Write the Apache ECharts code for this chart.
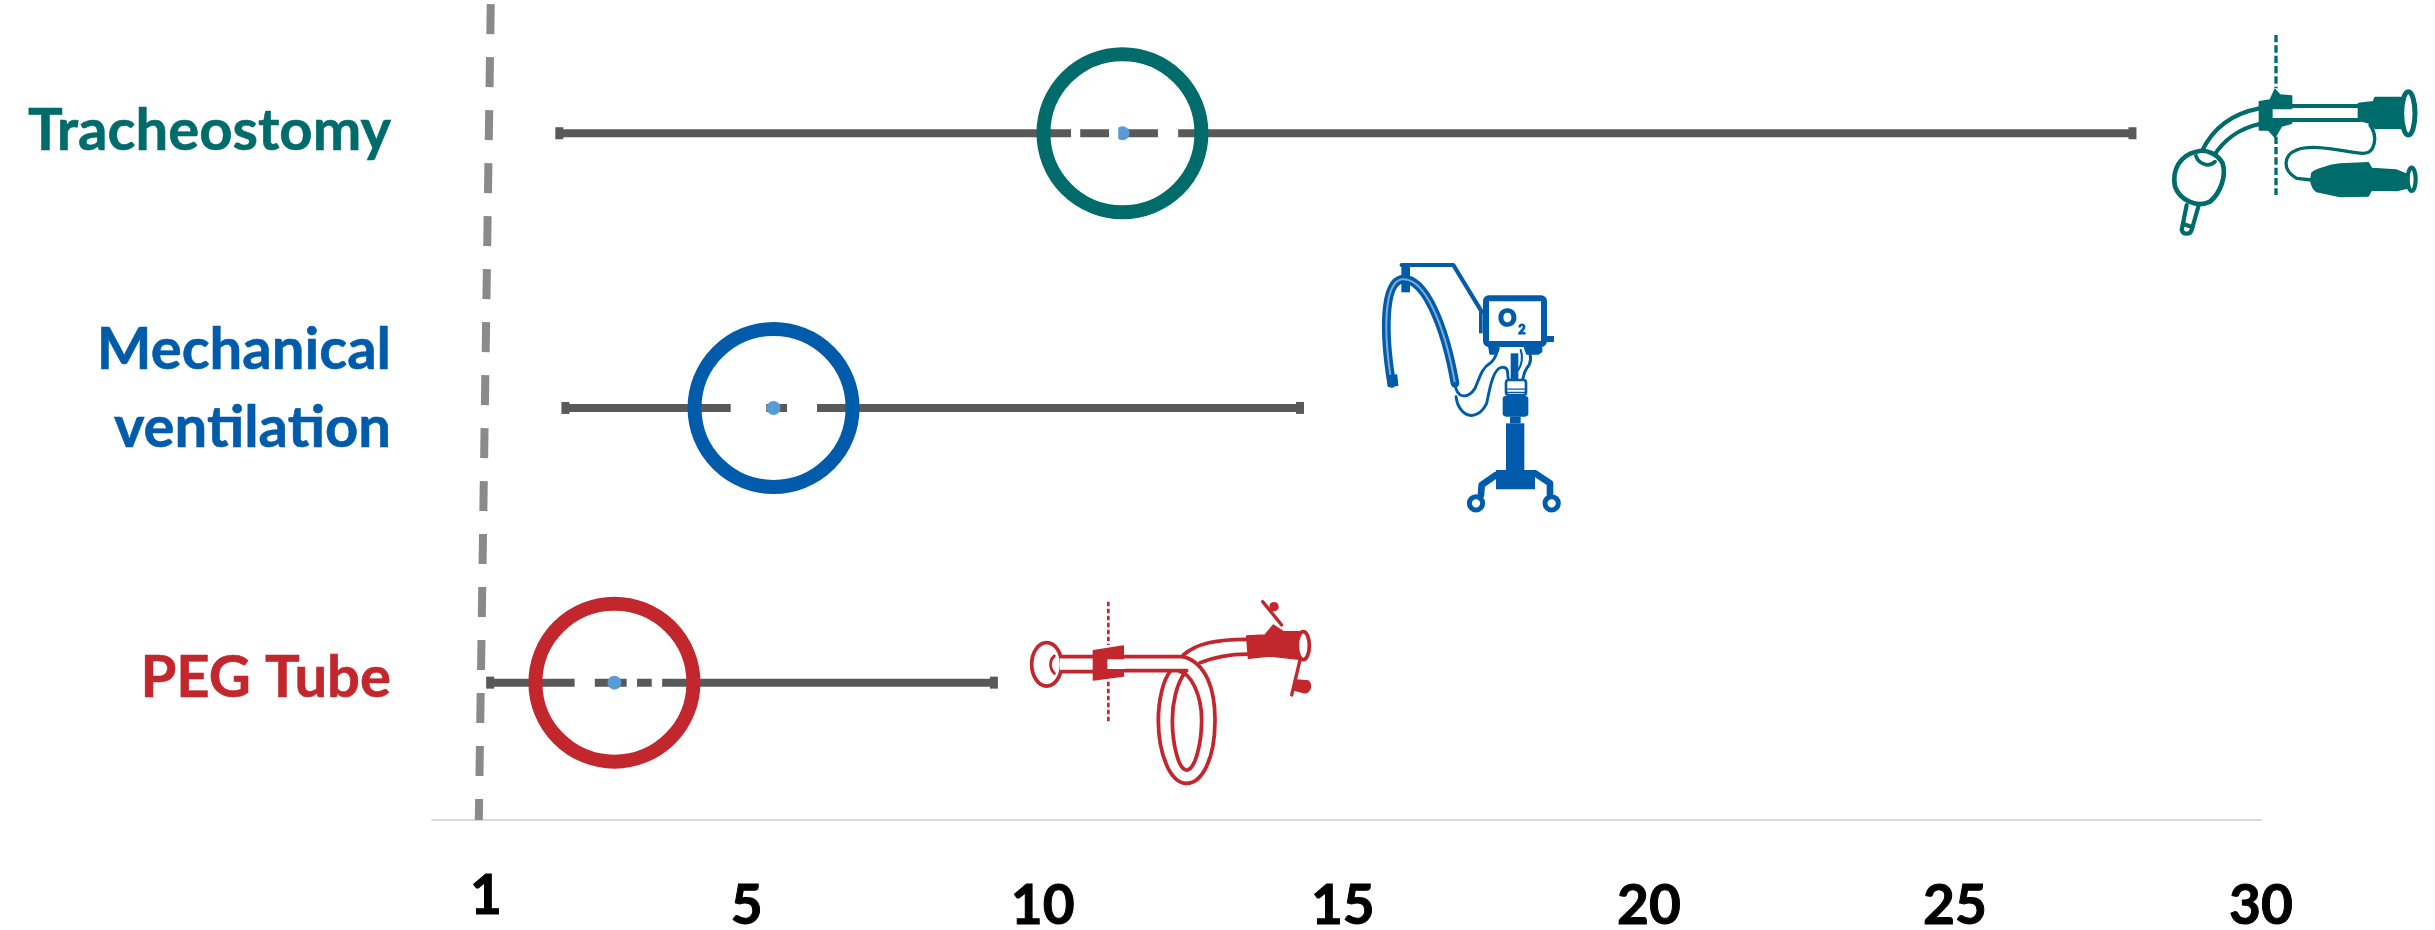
<!DOCTYPE html>
<html>
<head>
<meta charset="utf-8">
<style>html,body{margin:0;padding:0;background:#fff}#chart{width:2435px;height:930px}</style>
<script src="https://cdn.jsdelivr.net/npm/echarts@6/dist/echarts.min.js"></script>
</head>
<body>
<div id="chart"></div>
<script>
// Intervention timing: median with range, in the order the rows read from bottom to top
const rows = [1, 2, 3];
const interventions = ['PEG Tube', 'Mechanical\nventilation', 'Tracheostomy'];
const lowValues = [1.07, 2.3, 2.2];
const medianValues = [3.1, 5.7, 11.4];
const highValues = [9.3, 14.3, 27.9];
const tickValues = [1, 5, 10, 15, 20, 25, 30];
// Breaks in each range line, inside the ring: [row, from, to]
const lineBreaks = [
  [1, 2.45, 2.78], [1, 3.30, 3.47], [1, 3.71, 3.88],
  [2, 5.0, 5.58], [2, 5.92, 6.41],
  [3, 10.56, 10.71], [3, 11.18, 11.33], [3, 11.98, 12.31]
];
// Reference line at 1, leaning slightly across the plot
const referenceLine = [[1.08, 3.47], [0.885, 0.5]];

const TEAL = '#006b6b', BLUE = '#005cab', RED = '#c1272d';
const rowColors = [RED, BLUE, TEAL];
const RANGE_COLOR = '#595959', DOT_COLOR = '#5b9bd5', REF_COLOR = '#8a8a8a';
const FONT = 'Lato';
const WEIGHT = 1.25;

const chart = echarts.init(document.getElementById('chart'), null, {renderer: 'canvas'});

// The graphic component has no plain path element, so each SVG path becomes a registered shape
let shapeCount = 0;
function pathType(d) {
  const name = 'iconPath' + (shapeCount++);
  echarts.graphic.registerShape(name, echarts.graphic.extendPath(d));
  return name;
}
const outline = (d, color, w) => ({type: pathType(d), style: {fill: null, stroke: color, lineWidth: w * WEIGHT, lineCap: 'round', lineJoin: 'round'}});
const solid = (d, color) => ({type: pathType(d), style: {fill: color, stroke: color, lineWidth: 4, lineJoin: 'round'}});
const dashed = (d, color, w, dash) => ({type: pathType(d), style: {fill: null, stroke: color, lineWidth: w, lineDash: dash}});
const ring = (cx, cy, rx, ry, color, w) => ({type: 'ellipse', shape: {cx, cy, rx, ry}, style: {fill: '#fff', stroke: color, lineWidth: w * WEIGHT}});
const box = (x, y, width, height, color) => ({type: 'rect', shape: {x, y, width, height}, style: {fill: color}});
const framed = (x, y, width, height, r, color, w) => ({type: 'rect', shape: {x, y, width, height, r}, style: {fill: '#fff', stroke: color, lineWidth: w}});
const icon = (x, y, children) => ({type: 'group', x, y, scaleX: 1 / 3, scaleY: 1 / 3, silent: true, children});

// Tracheostomy tube
const tracheostomyIcon = icon(2100, 20, [
  dashed('M528,45 L528,205 M528,350 L528,525', TEAL, 10, [22, 9]),
  outline('M478,265 C400,280 340,320 305,395', TEAL, 10),
  outline('M478,312 C420,325 370,360 340,410', TEAL, 10),
  outline('M575,258 L780,258 M575,300 L780,300', TEAL, 10),
  solid('M478,245 L510,240 L525,208 L540,225 L575,228 L575,310 L545,318 L525,352 L505,330 L478,330 Z', TEAL),
  box(518, 268, 256, 26, '#fff'),
  solid('M775,250 L820,245 L825,232 L905,232 L905,325 L825,325 L810,310 L775,300 Z', TEAL),
  ring(925, 280, 20, 65, TEAL, 12),
  {type: pathType('M290,395 C320,385 355,405 368,430 C380,470 360,520 330,545 C290,565 240,540 225,500 C215,450 240,405 290,395 Z'), style: {fill: '#fff', stroke: TEAL, lineWidth: 14}},
  outline('M288,408 C295,430 325,445 345,425', TEAL, 9),
  outline('M260,555 L245,630 C250,645 270,645 275,630 L295,560 M250,612 L278,622', TEAL, 10),
  outline('M810,315 C835,350 825,400 790,400 C730,395 640,370 590,390 C550,405 545,450 590,475 L635,480', TEAL, 8),
  solid('M635,460 C640,450 690,435 720,432 L805,428 L815,445 L890,450 L920,462 L920,505 L890,512 L815,510 L805,528 L720,530 L650,515 C630,500 630,480 635,460 Z', TEAL),
  ring(935, 478, 12, 35, TEAL, 10)
]);

// Ventilator on a wheeled stand
const hosePath = 'M125,430 C100,280 100,130 155,118 C225,110 285,260 315,430';
const ventilatorIcon = icon(1350, 240, [
  outline('M155,75 L310,75 L395,215', BLUE, 10),
  box(154, 75, 26, 82, BLUE),
  box(387, 215, 11, 65, BLUE),
  outline(hosePath, BLUE, 21),
  outline(hosePath, '#7fa9d3', 5),
  solid('M112,408 L140,405 L143,436 L115,439 Z', BLUE),
  outline('M315,430 C320,480 355,475 375,445 C390,410 395,385 420,370 C440,355 440,335 445,325', BLUE, 7),
  outline('M318,470 C325,530 380,550 410,490 C420,440 430,385 455,382 C480,380 470,405 475,415', BLUE, 7),
  outline('M535,325 C545,350 545,370 530,385 C520,400 520,410 518,420', BLUE, 7),
  outline('M512,330 C520,350 515,375 505,390', BLUE, 5),
  box(482, 340, 23, 80, BLUE),
  framed(408, 175, 174, 137, 8, BLUE, 18),
  solid('M415,312 L445,312 L445,332 L435,342 L420,342 Z M520,312 L575,312 L575,335 L565,342 L530,342 Z', BLUE),
  box(585, 288, 27, 18, BLUE),
  {type: 'text', style: {x: 472, y: 238, text: 'O', fill: BLUE, stroke: BLUE, lineWidth: 5, font: '900 66px ' + FONT, align: 'center', verticalAlign: 'middle'}},
  {type: 'text', style: {x: 516, y: 270, text: '2', fill: BLUE, stroke: BLUE, lineWidth: 3, font: '900 38px ' + FONT, align: 'center', verticalAlign: 'middle'}},
  framed(468, 420, 60, 45, 8, BLUE, 8),
  outline('M470,447 L526,447 M470,457 L526,457', BLUE, 3),
  {type: 'rect', shape: {x: 458, y: 468, width: 77, height: 62, r: 10}, style: {fill: BLUE}},
  box(480, 530, 32, 20, BLUE),
  box(468, 550, 55, 145, BLUE),
  box(438, 690, 117, 58, BLUE),
  outline('M438,705 L395,735 L393,765 M555,700 L600,730 L600,765', BLUE, 16),
  ring(378, 790, 20, 20, BLUE, 12),
  ring(605, 790, 20, 20, BLUE, 12)
]);

// PEG tube with its loop and feeding port
const pegIcon = icon(1010, 580, [
  dashed('M295,65 L295,195 M295,305 L295,430', RED, 8, [14, 7]),
  ring(110, 253, 45, 65, RED, 9),
  outline('M133,228 C118,240 118,265 133,280', RED, 7),
  box(150, 234, 100, 38, '#fff'),
  outline('M155,230 L250,230 M155,275 L250,275', RED, 9),
  outline('M340,230 L520,230 M340,272 L530,272', RED, 9),
  solid('M250,212 L340,198 L340,288 L250,300 Z', RED),
  box(292, 238, 54, 29, '#fff'),
  outline('M520,230 C590,250 615,330 615,420 C615,540 575,610 530,610 C480,610 445,520 445,420 C445,360 460,300 480,275', RED, 9),
  outline('M510,275 C540,280 575,340 575,420 C575,490 555,570 530,570 C505,570 487,490 487,420 C487,370 500,310 525,278', RED, 9),
  outline('M520,225 C560,190 620,178 710,178 M570,248 C610,232 650,222 710,222', RED, 9),
  solid('M710,168 L765,165 L790,135 L820,155 L885,155 L868,238 L780,228 L715,235 Z', RED),
  ring(880, 197, 18, 42, RED, 9),
  outline('M758,65 L815,135', RED, 8),
  {type: 'circle', shape: {cx: 792, cy: 80, r: 14}, style: {fill: RED}},
  outline('M870,240 L845,345', RED, 8),
  solid('M860,300 L895,303 C908,318 900,340 880,338 L852,330 Z', RED)
]);

const xNudge = {1: 't1', 5: 't5', 10: 't10'};
const tickStyle = {fontFamily: FONT, fontWeight: 'bold', fontSize: 55, color: '#000', textBorderColor: '#000', textBorderWidth: 1};
const rowStyle = color => ({fontFamily: FONT, fontWeight: 'bold', fontSize: 58, color, textBorderColor: color, textBorderWidth: 0.6});

chart.setOption({
  animation: false,
  backgroundColor: '#fff',
  grid: {left: 432, right: 174, top: 0, bottom: 110, containLabel: false, outerBoundsMode: 'none'},
  xAxis: {
    type: 'value', min: 0.12, max: 30,
    axisLine: {show: true, onZero: false, lineStyle: {color: '#d9d9d9', width: 2}},
    axisTick: {show: false},
    splitLine: {show: false},
    axisLabel: {
      customValues: tickValues, margin: 49,
      formatter: v => `{${xNudge[v] || 'n'}|${v}}`,
      rich: {
        n: Object.assign({}, tickStyle, {padding: [10, 0, 0, 0]}),
        t1: tickStyle,
        t5: Object.assign({}, tickStyle, {padding: [10, 0, 0, 32]}),
        t10: Object.assign({}, tickStyle, {padding: [10, 0, 0, 12]})
      }
    }
  },
  yAxis: {
    type: 'value', min: 0.5, max: 3.485,
    axisLine: {show: false}, axisTick: {show: false}, splitLine: {show: false},
    axisLabel: {
      customValues: rows, margin: 41, align: 'right',
      formatter: v => interventions[v - 1].split('\n').map(s => `{r${v}|${s}}`).join('\n'),
      rich: {
        r1: Object.assign(rowStyle(RED), {lineHeight: 62, padding: [0, 0, 8, 0]}),
        r2: Object.assign(rowStyle(BLUE), {lineHeight: 78, padding: [0, 0, 38, 0]}),
        r3: Object.assign(rowStyle(TEAL), {lineHeight: 62, padding: [0, 0, 4, 0]})
      }
    }
  },
  series: [
    {
      type: 'line', z: 1, showSymbol: false, symbol: 'none', data: referenceLine,
      lineStyle: {color: REF_COLOR, width: 8, type: [30, 23]}
    },
    {
      // Range line with short end caps
      type: 'custom', z: 2,
      data: rows.map((r, i) => [lowValues[i], highValues[i], r]),
      encode: {x: [0, 1], y: 2},
      renderItem: (params, api) => {
        const a = api.coord([api.value(0), api.value(2)]);
        const b = api.coord([api.value(1), api.value(2)]);
        const style = {fill: RANGE_COLOR};
        return {type: 'group', children: [
          {type: 'rect', shape: {x: a[0], y: a[1] - 4, width: b[0] - a[0], height: 8}, style},
          {type: 'rect', shape: {x: a[0] - 4, y: a[1] - 6, width: 8, height: 12}, style},
          {type: 'rect', shape: {x: b[0] - 4, y: b[1] - 6, width: 8, height: 12}, style}
        ]};
      }
    },
    {
      type: 'scatter', z: 3, symbol: 'circle', symbolSize: 14,
      data: rows.map((r, i) => [medianValues[i], r]),
      itemStyle: {color: DOT_COLOR, opacity: 1}
    },
    {
      type: 'custom', z: 4, data: lineBreaks,
      encode: {x: [1, 2], y: 0},
      renderItem: (params, api) => {
        const a = api.coord([api.value(1), api.value(0)]);
        const b = api.coord([api.value(2), api.value(0)]);
        return {type: 'rect', shape: {x: a[0], y: a[1] - 6, width: b[0] - a[0], height: 12}, style: {fill: '#fff'}};
      }
    },
    {
      // Ring around each median
      type: 'scatter', z: 5, symbol: 'circle', symbolSize: 158,
      data: rows.map((r, i) => ({
        value: [medianValues[i], r],
        itemStyle: {color: 'rgba(255,255,255,0)', borderColor: rowColors[i], borderWidth: 14, opacity: 1}
      }))
    }
  ],
  graphic: {elements: [tracheostomyIcon, ventilatorIcon, pegIcon]}
});
</script>
</body>
</html>
